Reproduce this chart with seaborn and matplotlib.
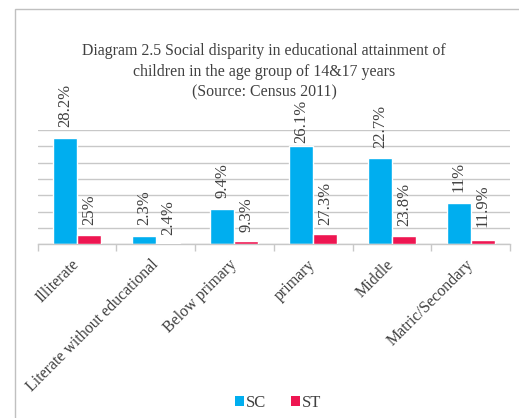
import numpy as np
import pandas as pd
import matplotlib
matplotlib.use("Agg")
import matplotlib.pyplot as plt
from matplotlib.patches import Patch, Rectangle
import seaborn as sns

categories = ["Illiterate", "Literate without educational", "Below primary",
              "primary", "Middle", "Matric/Secondary"]
sc_values = [28.2, 2.3, 9.4, 26.1, 22.7, 11.0]
st_values = [25.0, 2.4, 9.3, 27.3, 23.8, 11.9]
series_names = ["SC", "ST"]
title_lines = ["Diagram 2.5 Social disparity in educational attainment of",
               "children in the age group of 14&17 years",
               "(Source: Census 2011)"]

colors = {"SC": "#00AEEF", "ST": "#EE1651"}
text_color = "#404040"
grid_color = "#c8c8c8"

sns.set_theme(style="white")
plt.rcParams["font.family"] = ["Liberation Serif", "DejaVu Serif"]

df = pd.DataFrame({
    "category": categories * 2,
    "series": ["SC"] * len(categories) + ["ST"] * len(categories),
    "value": sc_values + st_values,
})

W, H = 519, 418
fig = plt.figure(figsize=(W / 100, H / 100), dpi=100)
fig.patch.set_facecolor("white")
ax = fig.add_axes([0.0726, 0.4156, 0.9101, 0.2734])
ax2 = ax.twinx()

# SC on the primary scale, ST on a hidden secondary scale
sns.barplot(data=df[df.series == "SC"], x="category", y="value", hue="series",
            hue_order=series_names, order=categories, palette=colors,
            width=0.61, saturation=1, dodge=True, legend=False, ax=ax)
sns.barplot(data=df[df.series == "ST"], x="category", y="value", hue="series",
            hue_order=series_names, order=categories, palette=colors,
            width=0.61, saturation=1, dodge=True, legend=False, ax=ax2)


def full_container(a):
    for c in a.containers:
        if len(c) == len(categories) and all(p is not None for p in c):
            return c
    return None


ax.set_ylim(0, 30.2)
ax2.set_ylim(0, 315)
ax.set_xlim(-0.5, len(categories) - 0.5)
ax.set_yticks(np.linspace(0, 30.2, 8))
ax.yaxis.grid(True, color=grid_color, linewidth=1)
ax.set_axisbelow(True)
ax.tick_params(axis="y", length=0, labelleft=False)
ax2.tick_params(axis="y", length=0, labelright=False)
ax.set_xlabel("")
ax.set_ylabel("")
ax2.set_ylabel("")

for a in (ax, ax2):
    for s in ("left", "right", "top", "bottom"):
        a.spines[s].set_visible(False)
ax.spines["bottom"].set_visible(True)
ax.spines["bottom"].set_color(grid_color)
ax.spines["bottom"].set_linewidth(1)

# boundary ticks between categories
ax.set_xticks(np.arange(-0.5, len(categories)), minor=True)
ax.tick_params(axis="x", which="minor", length=5, width=1, color=grid_color,
               direction="out", bottom=True)
ax.tick_params(axis="x", which="major", length=0, pad=13)
ax.set_xticks(range(len(categories)))
ax.set_xticklabels(categories, rotation=45, ha="right", va="center",
                   rotation_mode="anchor", fontsize=11.5, color=text_color)


def label_bars(a, values, pads):
    """Vertical value labels above each bar, offset in points."""
    for bar, v, p in zip(full_container(a), values, pads):
        a.annotate(f"{v:g}%", (bar.get_x() + bar.get_width() / 2, bar.get_height()),
                   xytext=(0, p), textcoords="offset points", rotation=90,
                   ha="center", va="bottom", fontsize=12, color=text_color)


# the "primary" SC label sits closer to its bar to clear the title
label_bars(ax, sc_values, [7.5, 7.5, 8, 2, 7.5, 8])
label_bars(ax2, st_values, [7, 6, 6.5, 6.5, 7, 9])

# three-line title, baselines placed individually
for line, base in zip(title_lines, [55, 76, 96]):
    fig.text(0.509, 1 - base / H, line, ha="center", va="baseline",
             fontsize=11.4, color=text_color)

handles = [Patch(facecolor=colors[s], edgecolor="none") for s in series_names]
fig.legend(handles, series_names, loc="center", bbox_to_anchor=(0.536, 0.036),
           ncol=2, frameon=False, fontsize=12, handlelength=0.55,
           handleheight=0.55, handletextpad=0.15, columnspacing=1.45,
           labelcolor=text_color)

fig.patches.append(Rectangle((15 / W, -0.1), 1.2, 1.0 - 9 / H + 0.1,
                             transform=fig.transFigure, fill=False,
                             edgecolor="#c0c0c0", linewidth=1))

fig.savefig("out.png", dpi=100)
